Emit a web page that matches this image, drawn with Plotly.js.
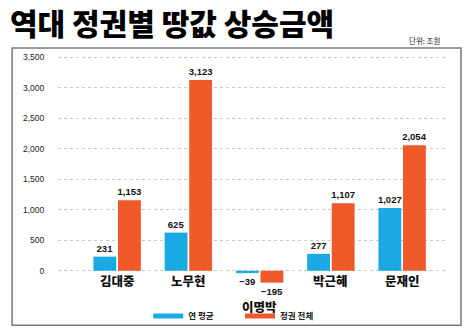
<!DOCTYPE html>
<html>
<head>
<meta charset="utf-8">
<script src="https://cdn.plot.ly/plotly-3.0.1.min.js"></script>
<style>html,body{margin:0;padding:0;background:#fff;}#chart{width:471px;height:333px;}</style>
</head>
<body>
<div id="chart"></div>
<script>
const categories = ['김대중', '노무현', '이명박', '박근혜', '문재인'];
const seriesNames = ['연 평균', '정권 전체'];
const annualAvg = [231, 625, -39, 277, 1027];
const regimeTotal = [1153, 3123, -195, 1107, 2054];
const yTickVals = [0, 500, 1000, 1500, 2000, 2500, 3000, 3500];
const titleText = '역대 정권별 땅값 상승금액';
const unitText = '단위: 조원';

const BLUE = '#19aae3';
const ORANGE = '#f05a28';
const KR = '"Noto Sans CJK KR", "Noto Sans", sans-serif';
const NUM = '"Liberation Sans", Arial, sans-serif';

const fmt = v => (v < 0 ? '\u2212' : '') + Math.abs(v).toLocaleString('en-US');
const labelFont = {family: NUM, size: 9.5, color: '#111', weight: 'bold'};

const traces = [
  {type: 'bar', x: categories, y: annualAvg, name: seriesNames[0], marker: {color: BLUE},
   text: annualAvg.map(fmt), texttemplate: '%{text}', textposition: 'outside', textfont: labelFont,
   constraintext: 'none', cliponaxis: false, showlegend: false, hoverinfo: 'none'},
  {type: 'bar', x: categories, y: regimeTotal, name: seriesNames[1], marker: {color: ORANGE},
   text: regimeTotal.map(fmt), texttemplate: '%{text}', textposition: 'outside', textfont: labelFont,
   constraintext: 'none', cliponaxis: false, showlegend: false, hoverinfo: 'none'},
  // legend entries (line-style keys like the reference), one legend box each
  {type: 'scatter', mode: 'lines', x: [null], y: [null], name: seriesNames[0], line: {color: BLUE, width: 5}, hoverinfo: 'none', legend: 'legend'},
  {type: 'scatter', mode: 'lines', x: [null], y: [null], name: seriesNames[1], line: {color: ORANGE, width: 5}, hoverinfo: 'none', legend: 'legend2'}
];

const annotations = categories.map((c, i) => ({
  x: c, y: 0, xref: 'x', yref: 'y', text: c, showarrow: false,
  yshift: (Math.min(annualAvg[i], regimeTotal[i]) < 0) ? -36 : -10,
  font: {family: KR, size: 12.5, color: '#111', weight: 900}
}));
annotations.push({
  xref: 'paper', yref: 'paper', x: 0.987, y: 1.046, xanchor: 'right', yanchor: 'middle',
  text: unitText, showarrow: false, font: {family: KR, size: 7.5, color: '#222'}
});

const legendFont = {family: KR, size: 8.5, color: '#222', weight: 'bold'};
const legendBase = {orientation: 'h', xanchor: 'left', y: -0.128, yanchor: 'middle', font: legendFont, bgcolor: 'rgba(0,0,0,0)'};

const layout = {
  width: 471, height: 333,
  margin: {l: 58, r: 24, t: 50.9, b: 47.2, autoexpand: false},
  paper_bgcolor: '#fff', plot_bgcolor: '#fff',
  title: {text: titleText, x: 0.021, xanchor: 'left', xref: 'container', y: 1 - 24/333, yanchor: 'middle', yref: 'container',
          font: {family: KR, size: 30, color: '#000', weight: 900}},
  barmode: 'group', bargap: 0.31, bargroupgap: 0.07,
  xaxis: {type: 'category', range: [-0.83, 4.63], showticklabels: false, showgrid: false, zeroline: false, showline: false, fixedrange: true},
  yaxis: {range: [-250, 3600], tickvals: yTickVals, tickformat: ',', showgrid: true, gridcolor: '#c8c8c8', griddash: 'dot', gridwidth: 1,
          zeroline: false, showline: false, ticks: 'outside', ticklen: 11, tickcolor: 'rgba(0,0,0,0)',
          tickfont: {family: NUM, size: 8.5, color: '#222'}, fixedrange: true},
  showlegend: true,
  legend: Object.assign({}, legendBase, {x: 0.232}),
  legend2: Object.assign({}, legendBase, {x: 0.468}),
  annotations: annotations,
  shapes: [{type: 'rect', xref: 'paper', yref: 'paper', x0: -0.118, x1: 1.036, y0: -0.167, y1: 1.0123,
            line: {color: '#777', width: 1.5}, fillcolor: 'rgba(0,0,0,0)', layer: 'below'}]
};

Plotly.newPlot('chart', traces, layout, {staticPlot: true, displayModeBar: false});
</script>
</body>
</html>
